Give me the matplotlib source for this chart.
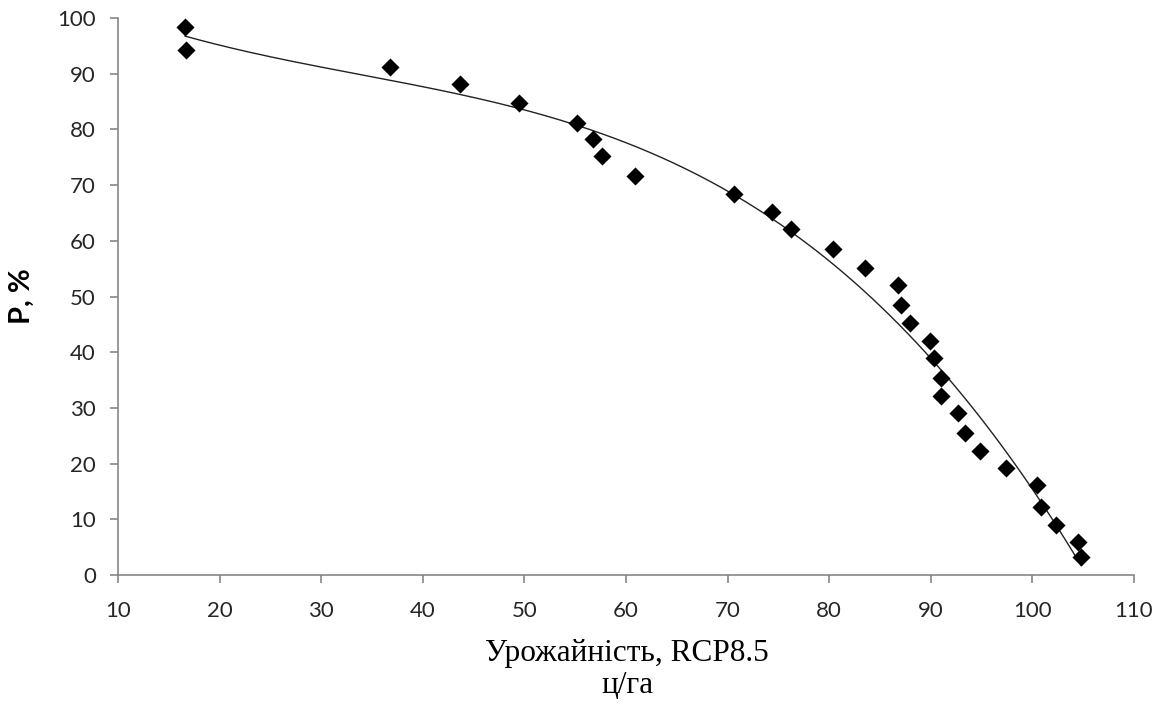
import numpy as np
import matplotlib
matplotlib.use("Agg")
import matplotlib.pyplot as plt

# Yield (c/ha) under RCP8.5 and exceedance probability P (%)
yield_rcp85 = [16.6, 16.7, 36.8, 43.7, 49.5, 55.2, 56.8, 57.6, 60.9, 70.6,
               74.4, 76.2, 80.4, 83.5, 86.8, 87.1, 88.0, 89.9, 90.3, 91.0,
               91.0, 92.7, 93.4, 94.8, 97.4, 100.5, 100.9, 102.3, 104.5, 104.8]
prob_pct = [98.4, 94.3, 91.2, 88.1, 84.7, 81.1, 78.3, 75.2, 71.6, 68.4,
            65.2, 62.1, 58.5, 55.1, 52.1, 48.5, 45.2, 42.0, 39.0, 35.4,
            32.1, 29.1, 25.5, 22.3, 19.2, 16.2, 12.2, 9.0, 5.9, 3.2]

x_ticks = [10, 20, 30, 40, 50, 60, 70, 80, 90, 100, 110]
y_ticks = [0, 10, 20, 30, 40, 50, 60, 70, 80, 90, 100]

x = np.array(yield_rcp85)
y = np.array(prob_pct)

fig = plt.figure(figsize=(11.69, 7.04), dpi=100)
ax = fig.add_axes([0.101, 0.1832, 0.869, 0.7912])

# polynomial trend line over the data range
coef = np.polyfit(x, y, 3)
xs = np.linspace(x.min(), x.max(), 300)
ax.plot(xs, np.polyval(coef, xs), color="#222222", lw=1.0, zorder=2)

ax.scatter(x, y, marker="D", s=85, color="black", zorder=3, linewidths=0)

ax.set_xlim(10, 110)
ax.set_ylim(0, 100)
ax.set_xticks(x_ticks)
ax.set_yticks(y_ticks)

tick_font = {"family": "Lato", "size": 16}
ax.set_xticklabels([str(t) for t in x_ticks], fontdict=tick_font)
ax.set_yticklabels([str(t) for t in y_ticks], fontdict=tick_font)

for side in ("top", "right"):
    ax.spines[side].set_visible(False)
for side in ("left", "bottom"):
    ax.spines[side].set_color("#868686")
    ax.spines[side].set_linewidth(1.2)
ax.tick_params(axis="both", direction="out", length=6, width=1.2,
               color="#868686", labelcolor="#262626")
ax.tick_params(axis="x", pad=13)
ax.tick_params(axis="y", pad=10)

ax.set_xlabel("Урожайність, RCP8.5\nц/га", family="Liberation Serif",
              fontsize=22.5, linespacing=1.15)
ax.xaxis.label.set(va="center", ha="center")
ax.xaxis.set_label_coords(0.501, -0.170)

ax.set_ylabel("P, %", family="Lato", fontweight="bold", fontsize=21)
ax.yaxis.label.set(va="center", ha="center")
ax.yaxis.set_label_coords(-0.0945, 0.501)

fig.savefig("out.png", dpi=100, facecolor="white")
